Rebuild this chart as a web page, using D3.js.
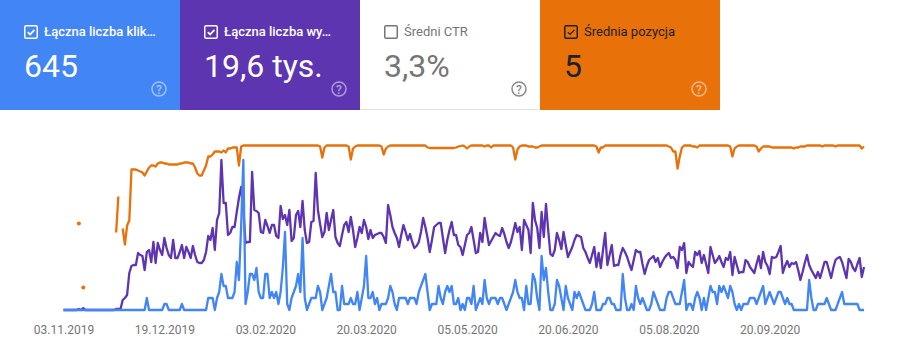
<!DOCTYPE html>
<html>
<head>
<meta charset="utf-8">
<script src="https://cdn.jsdelivr.net/npm/d3@7"></script>
<style>
html, body { margin: 0; padding: 0; background: #fff; }
svg { display: block; font-family: Roboto, sans-serif; }
</style>
</head>
<body>
<div id="chart"></div>
<script>
// --- Data, one value per day ---
const cardLabels = ["Łączna liczba klik…", "Łączna liczba wy…", "Średni CTR", "Średnia pozycja"];
const cardValues = ["645", "19,6 tys.", "3,3%", "5"];
const cardChecked = [true, true, false, true];

const tickDates = ["2019-11-03", "2019-12-19", "2020-02-03", "2020-03-20", "2020-05-05", "2020-06-20", "2020-08-05", "2020-09-20"];

const clicks = [
  0,0,0,0,0,0,0,0,0,0,
  0,0,0,0,0,0,0,0,0,0,
  0,0,0,0,0,0,0,0,0,0,
  0,0,0,0,0,0,0,0,2,0,
  0,0,0,0,0,0,1,1,0,0,
  0,0,0,0,1,0,0,0,0,0,
  0,0,0,0,0,0,2,2,2,0,
  2,3,6,4,4,2,2,2,3,8,
  5,14,25,1,3,6,6,5,7,3,
  2,2,6,6,2,3,2,3,1,3,
  7,13,1,0,2,3,4,6,3,12,
  2,0,1,2,2,2,4,3,0,1,
  2,4,6,3,3,0,0,4,1,1,
  1,2,1,1,3,0,2,4,9,2,
  2,3,1,2,0,1,1,1,2,4,
  3,1,0,2,2,2,2,1,2,2,
  2,1,3,4,5,6,3,0,1,1,
  1,4,2,1,3,4,3,4,1,1,
  2,0,1,0,2,2,1,4,0,1,
  2,1,5,2,1,2,2,2,1,2,
  2,1,0,1,2,3,5,3,2,2,
  0,4,1,1,6,5,2,0,9,5,
  7,3,0,0,1,5,4,2,0,4,
  2,1,0,3,2,3,2,1,0,0,
  0,1,3,0,0,0,1,1,2,2,
  1,1,0,0,0,6,2,0,0,1,
  0,4,2,1,2,1,0,0,1,3,
  2,1,0,0,0,2,3,3,2,1,
  1,1,3,5,0,1,1,0,2,3,
  2,0,2,0,2,4,3,3,1,4,
  3,4,3,2,4,3,1,0,1,0,
  1,1,1,2,2,2,1,2,3,4,
  1,2,3,2,1,2,3,3,2,1,
  2,1,1,0,0,0,0,0,0,0,
  5,2,0,0,1,1,1,1,2,1,
  0,0,0,1,2,3,1,1,1,1,
  1,1,1,0,0,0
];

const impressions = [
  0,0,0,0,0,0,0,1,0,2,
  0,0,0,0,0,0,0,0,0,0,
  0,0,0,0,1,1,1,10,12,15,
  37,44,45,45,57,55,54,40,58,60,
  48,68,47,67,60,55,72,62,55,52,
  70,52,52,58,65,52,63,58,52,64,
  55,48,47,47,50,58,74,70,82,60,
  90,97,150,107,107,75,77,83,83,98,
  112,123,100,67,68,68,138,100,99,97,
  78,77,90,84,77,85,85,74,72,104,
  91,95,85,100,69,72,95,99,83,109,
  80,67,68,88,89,137,100,86,73,78,
  97,80,90,100,73,67,64,75,85,88,
  78,93,80,63,72,83,77,90,83,71,
  80,72,75,76,77,77,73,67,105,95,
  83,77,72,63,75,85,78,70,76,68,
  62,64,68,78,92,83,72,58,70,83,
  85,87,87,72,57,70,80,88,75,75,
  65,63,55,65,75,77,83,70,57,58,
  77,68,92,78,65,69,73,77,75,74,
  82,76,68,62,68,77,87,78,83,60,
  90,85,80,57,107,90,82,62,98,73,
  106,80,56,54,60,77,70,61,78,65,
  53,58,63,70,75,74,73,62,58,52,
  47,55,63,43,57,42,60,77,45,55,
  65,44,45,45,55,62,58,53,46,40,
  50,60,58,58,46,36,44,50,52,54,
  48,52,43,48,52,55,57,52,53,50,
  42,63,60,67,37,48,45,43,58,55,
  59,47,55,46,37,63,55,47,50,54,
  48,43,52,50,58,35,53,45,37,38,
  38,50,48,43,40,37,46,54,42,58,
  48,44,36,53,52,53,58,64,37,44,
  49,43,47,46,48,40,30,38,47,55,
  45,40,36,32,38,32,40,48,48,40,
  32,42,50,52,53,48,40,32,51,48,
  42,39,46,52,33,43
];

const positions = [
  null,null,null,null,null,null,null,8.8,null,15.2,
  null,null,null,null,null,null,null,null,null,null,
  null,null,null,null,9.7,6.1,null,9.3,10.9,9,
  8.5,3.4,3.4,3.4,3.5,3.6,3.7,4,3.6,3.2,
  3,3,3.1,2.8,2.7,2.7,2.8,2.8,2.9,2.9,
  2.9,2.9,2.9,2.8,2.8,2.7,2.7,2.7,2.8,2.8,
  3.2,3.8,4,4,3.5,3,2.1,2.1,1.9,1.6,
  1.6,1.6,1.7,1.5,1.7,1.3,1.3,1.2,1.2,1.2,
  3,1.1,1,1,1,1,1,1,1,1,
  1,1,1,1,1,1,1,1,1,1,
  1,1,1,1,1,1,1,1,1,1,
  1,1,1,1,1,1,1,1.1,2.2,1.2,
  1,1,1,1,1,1,1,1,1,1,
  1.1,2.4,1.3,1.1,1,1,1,1,1,1,
  1,1,1,1,1,1.1,1.9,1.3,1.1,1,
  1,1,1,1,1,1,1,1,1,1,
  1,1,1,1,1,1,1.2,1.25,1.25,1.25,
  1.25,1.25,1.25,1.25,1.25,1.25,1.25,1.25,1.25,1.2,
  1.1,1.05,1,1.1,1.3,1.1,1,1,1,1,
  1,1,1.1,1,1,1.2,1,1,1,1,
  1,1,1,1,1,1.2,2.4,1.4,1.1,1,
  1,1,1.1,1.1,1.1,1.2,1.2,1.1,1,1,
  1,1,1,1,1,1,1,1,1,1,
  1,1,1,1,1,1,1,1,1,1,
  1,1,1,1.1,1.7,1.2,1.2,1,1,1,
  1,1,1,1,1,1,1,1,1,1,
  1,1,1,1,1,1,1,1,1,1,
  1,1,1,1,1,1,1.1,1.2,1.6,1.6,
  3.3,2.1,1.2,1,1,1,1,1.1,1.1,1.2,
  1,1,1,1,1,1,1,1,1,1,
  1,1,1,1,1.1,2.1,1.3,1.1,1,1,
  1,1,1,1,1,1,1.1,1.6,1.3,1.1,
  1.1,1.1,1.1,1.2,1.2,1.2,1.2,1.2,1.2,1.2,
  1.2,1.2,1.2,1.3,1.2,1.2,1.1,1.1,1.1,1,
  1,1,1,1,1,1,1.1,1,1,1,
  1,1,1.1,1,1,1,1,1,1,1,
  1,1,1,1,1.3,1.1
];

// --- Setup ---
const width = 911, height = 362;
const parseDate = d3.timeParse("%Y-%m-%d");
const startDate = parseDate("2019-11-03");
const days = d3.range(clicks.length).map(i => d3.timeDay.offset(startDate, i));

const svg = d3.select("#chart").append("svg")
    .attr("width", width)
    .attr("height", height);

// --- Cards ---
const cardFill = ["#4285f4", "#5e35b1", "#ffffff", "#e8710a"];
const cardText = ["#ffffff", "#ffffff", "#757575", "#202124"];
const cardWidth = 180, cardHeight = 110;

const cards = svg.selectAll(".card")
    .data(cardLabels)
    .join("g")
    .attr("class", "card")
    .attr("transform", (d, i) => `translate(${i * cardWidth},0)`);

cards.append("rect")
    .attr("width", cardWidth)
    .attr("height", cardHeight)
    .attr("fill", (d, i) => cardFill[i]);

// thin grey edge under the unchecked card
svg.append("line")
    .attr("x1", 360).attr("x2", 539)
    .attr("y1", 109.5).attr("y2", 109.5)
    .attr("stroke", "#e0e0e0");

cards.append("rect")
    .attr("x", 24.75).attr("y", 25.75)
    .attr("width", 12.5).attr("height", 12.5)
    .attr("rx", 1.5)
    .attr("fill", "none")
    .attr("stroke", (d, i) => cardText[i])
    .attr("stroke-width", 1.5);

cards.filter(d => cardChecked[cardLabels.indexOf(d)]).append("path")
    .attr("d", "M27.8 32.2l2.3 2.3 4.3-4.6")
    .attr("fill", "none")
    .attr("stroke", d => cardText[cardLabels.indexOf(d)])
    .attr("stroke-width", d => cardLabels.indexOf(d) === 3 ? 1.2 : 1.8);

cards.append("text")
    .attr("x", 44).attr("y", 36)
    .attr("font-size", 13)
    .attr("font-weight", (d, i) => i < 2 ? 500 : 400)
    .attr("fill", (d, i) => cardText[i])
    .text(d => d);

cards.append("text")
    .attr("x", 24).attr("y", 77)
    .attr("font-size", 32)
    .attr("fill", (d, i) => cardText[i])
    .text((d, i) => cardValues[i]);

// help icon
const help = cards.append("g")
    .attr("transform", "translate(159,89)")
    .attr("opacity", (d, i) => i === 2 ? 0.85 : 0.5);

help.append("circle")
    .attr("r", 7)
    .attr("fill", "none")
    .attr("stroke", (d, i) => i === 2 ? "#757575" : "#ffffff")
    .attr("stroke-width", 1.5);

help.append("text")
    .attr("y", 4.5)
    .attr("text-anchor", "middle")
    .attr("font-size", 12)
    .attr("font-weight", 500)
    .attr("fill", (d, i) => i === 2 ? "#757575" : "#ffffff")
    .text("?");

// --- Scales ---
const xScale = d3.scaleTime()
    .domain([startDate, days[days.length - 1]])
    .range([63.5, 864]);

const yClicks = d3.scaleLinear().domain([0, 25]).range([310, 160]);
const yImpressions = d3.scaleLinear().domain([0, 150]).range([310, 160]);
const yPosition = d3.scaleLinear().domain([1, 17.5]).range([145.5, 310.5]);

// --- Axis (labels only) ---
svg.append("g")
    .attr("transform", "translate(0,322)")
    .call(d3.axisBottom(xScale)
        .tickValues(tickDates.map(parseDate))
        .tickFormat(d3.timeFormat("%d.%m.%Y"))
        .tickSize(0))
    .call(g => g.select(".domain").remove())
    .call(g => g.selectAll("text")
        .attr("font-family", "Roboto, sans-serif")
        .attr("font-size", 12)
        .attr("fill", "#757575"));

// --- Lines ---
function drawLine(values, yScale, color) {
    const line = d3.line()
        .defined(d => d !== null)
        .x((d, i) => xScale(days[i]))
        .y(d => yScale(d));

    svg.append("path")
        .datum(values)
        .attr("fill", "none")
        .attr("stroke", color)
        .attr("stroke-width", 2.3)
        .attr("stroke-linejoin", "round")
        .attr("d", line);

    // days with no neighbour on either side show up as a lone dot
    svg.selectAll(null)
        .data(values.map((d, i) => ({ d, i }))
            .filter(p => p.d !== null && values[p.i - 1] == null && values[p.i + 1] == null))
        .join("circle")
        .attr("cx", p => xScale(days[p.i]))
        .attr("cy", p => yScale(p.d))
        .attr("r", 2)
        .attr("fill", color);
}

drawLine(impressions, yImpressions, "#5e35b1");
drawLine(clicks, yClicks, "#4285f4");
drawLine(positions, yPosition, "#e8710a");
</script>
</body>
</html>
